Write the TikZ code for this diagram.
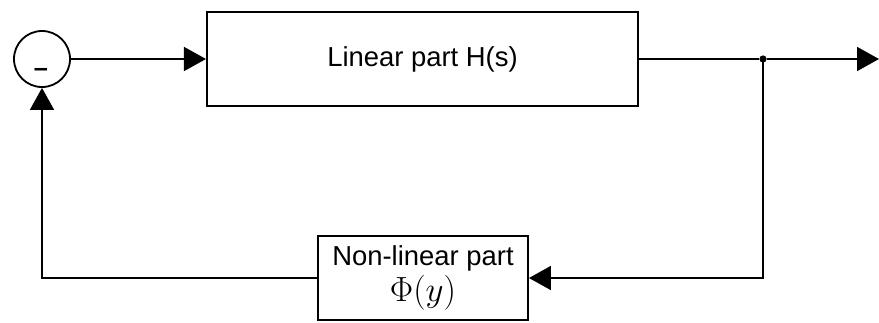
\documentclass[tikz,border=0pt]{standalone}
\usepackage{amsmath,amssymb}
\usepackage{fontspec}
\setsansfont{Liberation Sans}
\usetikzlibrary{arrows.meta, positioning, calc}
\tikzset{
  block/.style={
    rectangle, draw=black, line width=1.3pt, inner sep=0pt,
    align=center, font=\sffamily\fontsize{19.5}{23}\selectfont
  },
  sumnode/.style={circle, draw=black, line width=1.3pt, minimum size=1.4cm, inner sep=0pt},
  signlabel/.style={font=\sffamily\bfseries\fontsize{18}{18}\selectfont, inner sep=0pt},
  junction/.style={circle, fill=black, minimum size=1.8mm, inner sep=0pt},
  edge/.style={-{Triangle[length=5.5mm, width=6mm]}, line width=1.3pt},
  wire/.style={line width=1.3pt}
}

\begin{document}
\begin{tikzpicture}[x=0.025cm, y=-0.025cm]
    \useasboundingbox (0,0) rectangle (879,322);
    \node[sumnode] (sum) at (42,59) {};
    \node[signlabel] (sumsign) at (41,72) {--};
    \node[block, minimum width=10.78cm, minimum height=2.33cm] (lin) at (422.5,59) {Linear part H(s)};
    \node[block, minimum width=5.25cm, minimum height=2.1cm] (nonlin) at (423,278)
      {Non-linear part\\[3pt] {\fontsize{27}{28}\selectfont $\Phi(y)$}};
    \node[junction] (split) at (763,59) {};
    \coordinate (out) at (879,59);
    \draw[edge] (sum) -- (lin);
    \draw[wire] (lin) -- (split);
    \draw[edge] (split) -- (out);
    \draw[edge] (split.center) |- (nonlin);
    \draw[edge] (nonlin) -| (sum);
\end{tikzpicture}
\end{document}
